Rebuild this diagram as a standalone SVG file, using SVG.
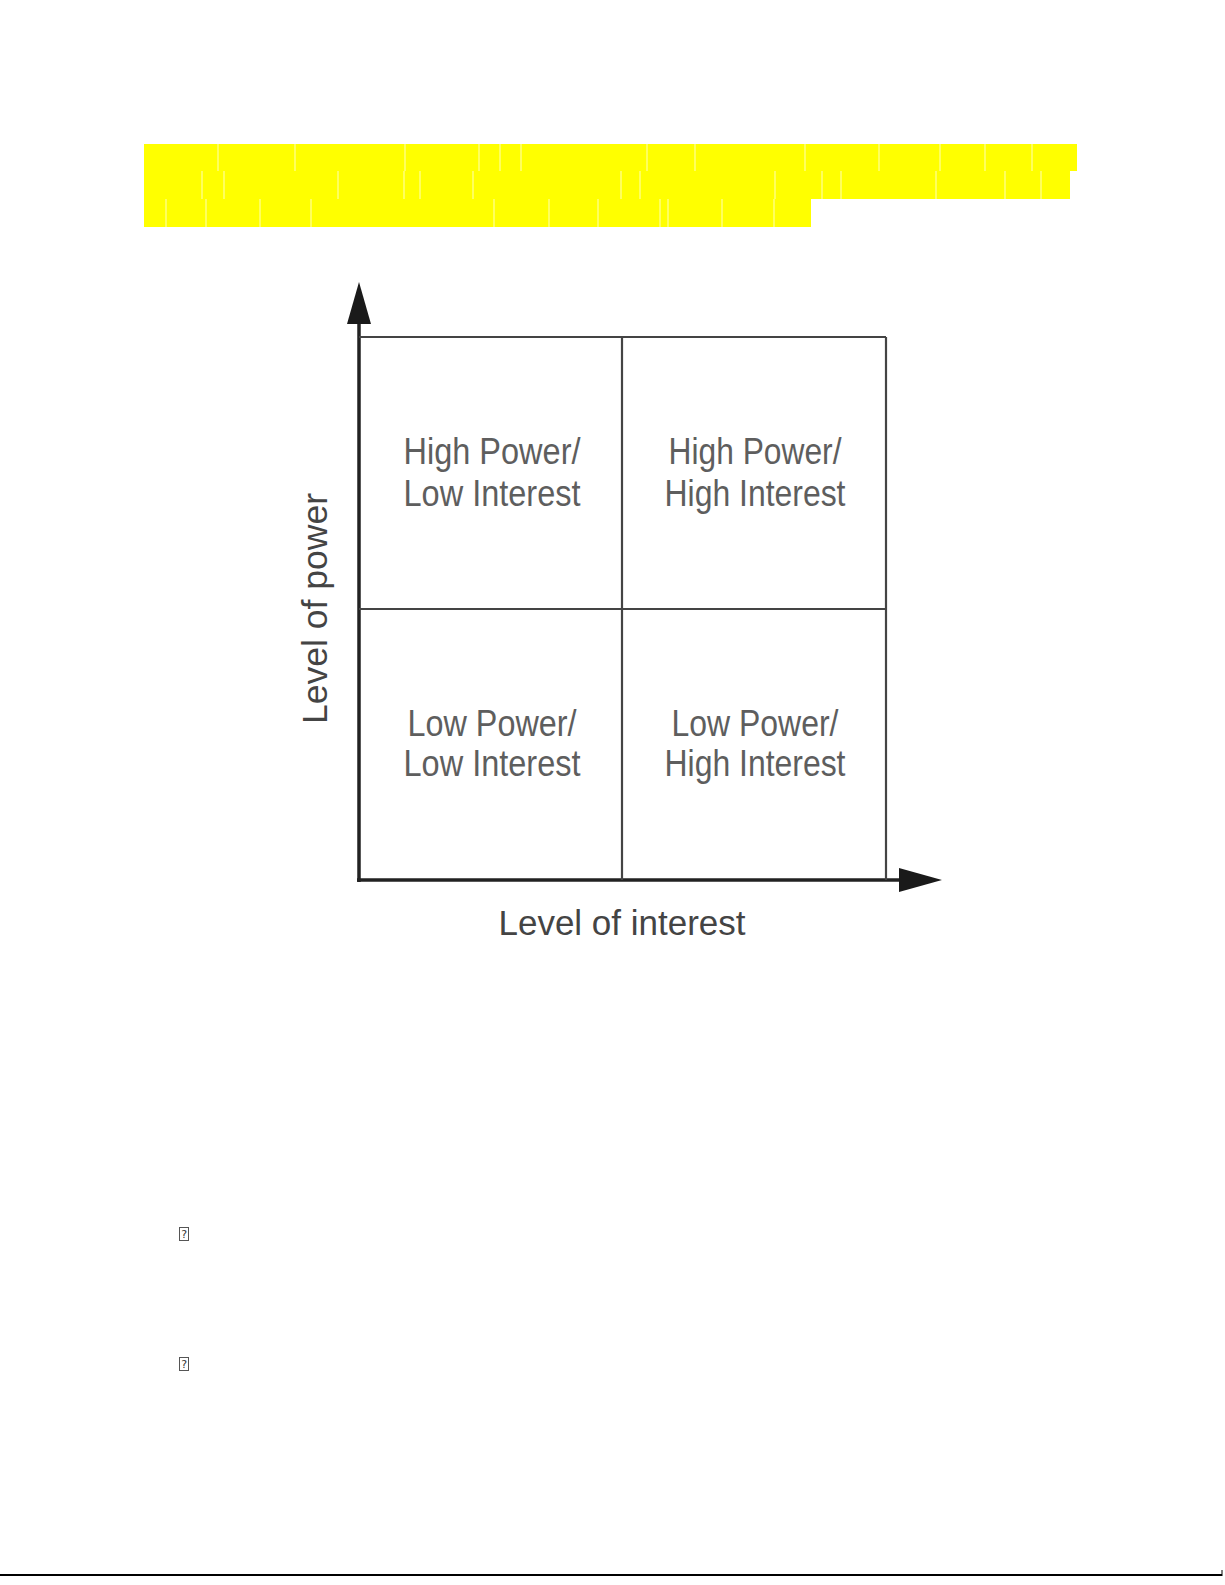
<svg xmlns="http://www.w3.org/2000/svg" width="1225" height="1585" viewBox="0 0 1225 1585">
<style>
.hl{fill:#ffff00}
.sep{stroke:#ffffb8;stroke-width:1}
.axis{stroke:#222;stroke-width:3.5;fill:none}
.grid{stroke:#444;stroke-width:2.2;fill:none}
.q{font-family:"Liberation Sans",Arial,sans-serif;font-size:36px;fill:#5e5e5e;text-anchor:middle}
.lab{font-family:"Liberation Sans",Arial,sans-serif;font-size:35px;fill:#444;text-anchor:middle}
.miss{font-family:"DejaVu Sans Mono",monospace;font-size:11px;fill:#333;text-anchor:middle}
</style>
<g id="highlight">
<rect class="hl" x="144" y="144" width="933" height="27"/>
<rect class="hl" x="144" y="171" width="926" height="28"/>
<rect class="hl" x="144" y="199" width="667" height="28"/>
<g class="sep">
<line x1="218" y1="144" x2="218" y2="171"/><line x1="295" y1="144" x2="295" y2="171"/><line x1="405" y1="144" x2="405" y2="171"/><line x1="479" y1="144" x2="479" y2="171"/><line x1="500" y1="144" x2="500" y2="171"/><line x1="521" y1="144" x2="521" y2="171"/><line x1="647" y1="144" x2="647" y2="171"/><line x1="695" y1="144" x2="695" y2="171"/><line x1="805" y1="144" x2="805" y2="171"/><line x1="879" y1="144" x2="879" y2="171"/><line x1="940" y1="144" x2="940" y2="171"/><line x1="985" y1="144" x2="985" y2="171"/><line x1="1032" y1="144" x2="1032" y2="171"/>
<line x1="202" y1="171" x2="202" y2="199"/><line x1="224" y1="171" x2="224" y2="199"/><line x1="338" y1="171" x2="338" y2="199"/><line x1="404" y1="171" x2="404" y2="199"/><line x1="420" y1="171" x2="420" y2="199"/><line x1="473" y1="171" x2="473" y2="199"/><line x1="621" y1="171" x2="621" y2="199"/><line x1="640" y1="171" x2="640" y2="199"/><line x1="775" y1="171" x2="775" y2="199"/><line x1="822" y1="171" x2="822" y2="199"/><line x1="841" y1="171" x2="841" y2="199"/><line x1="936" y1="171" x2="936" y2="199"/><line x1="1005" y1="171" x2="1005" y2="199"/><line x1="1041" y1="171" x2="1041" y2="199"/>
<line x1="166" y1="199" x2="166" y2="227"/><line x1="206" y1="199" x2="206" y2="227"/><line x1="260" y1="199" x2="260" y2="227"/><line x1="311" y1="199" x2="311" y2="227"/><line x1="494" y1="199" x2="494" y2="227"/><line x1="549" y1="199" x2="549" y2="227"/><line x1="598" y1="199" x2="598" y2="227"/><line x1="660" y1="199" x2="660" y2="227"/><line x1="668" y1="199" x2="668" y2="227"/><line x1="722" y1="199" x2="722" y2="227"/><line x1="774" y1="199" x2="774" y2="227"/>
</g>
</g>
<g id="connectors">
<line class="axis" x1="359" y1="882" x2="359" y2="320"/>
<polygon points="347,324 359,282 371,324" fill="#1a1a1a"/>
<line class="axis" x1="357" y1="880" x2="902" y2="880"/>
<polygon points="899,868 942,880 899,892" fill="#1a1a1a"/>
</g>
<g id="grid">
<line class="grid" x1="359" y1="337" x2="886" y2="337"/>
<line class="grid" x1="886" y1="337" x2="886" y2="880"/>
<line class="grid" x1="359" y1="609" x2="886" y2="609"/>
<line class="grid" x1="622" y1="337" x2="622" y2="880"/>
</g>
<g id="q-hp-li">
<text class="q" x="492" y="464" textLength="177" lengthAdjust="spacingAndGlyphs">High Power/</text>
<text class="q" x="492" y="506" textLength="177" lengthAdjust="spacingAndGlyphs">Low Interest</text>
</g>
<g id="q-hp-hi">
<text class="q" x="755" y="464" textLength="173" lengthAdjust="spacingAndGlyphs">High Power/</text>
<text class="q" x="755" y="506" textLength="181" lengthAdjust="spacingAndGlyphs">High Interest</text>
</g>
<g id="q-lp-li">
<text class="q" x="492" y="736" textLength="169" lengthAdjust="spacingAndGlyphs">Low Power/</text>
<text class="q" x="492" y="776" textLength="177" lengthAdjust="spacingAndGlyphs">Low Interest</text>
</g>
<g id="q-lp-hi">
<text class="q" x="755" y="736" textLength="167" lengthAdjust="spacingAndGlyphs">Low Power/</text>
<text class="q" x="755" y="776" textLength="181" lengthAdjust="spacingAndGlyphs">High Interest</text>
</g>
<g id="axis-labels">
<text class="lab" x="622" y="935" textLength="247" lengthAdjust="spacingAndGlyphs">Level of interest</text>
<text class="lab" transform="translate(327,608.5) rotate(-90)" x="0" y="0" textLength="231" lengthAdjust="spacingAndGlyphs">Level of power</text>
</g>
<g id="missing-glyphs">
<rect x="179.5" y="1227.5" width="9" height="13" fill="none" stroke="#555" stroke-width="1"/>
<text class="miss" x="184" y="1238">?</text>
<rect x="179.5" y="1357.5" width="9" height="13" fill="none" stroke="#555" stroke-width="1"/>
<text class="miss" x="184" y="1368">?</text>
</g>
<g id="footer">
<line x1="0" y1="1575" x2="1222" y2="1575" stroke="#000" stroke-width="2"/>
<line x1="1222" y1="1570" x2="1222" y2="1576" stroke="#000" stroke-width="1"/>
</g>
</svg>
